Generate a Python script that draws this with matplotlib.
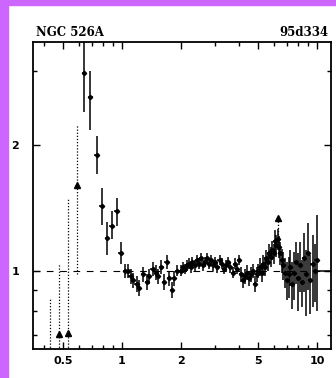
import matplotlib
matplotlib.use('Agg')

import matplotlib.pyplot as plt
from matplotlib.patches import Rectangle
from matplotlib.ticker import NullFormatter
import numpy as np

# -----------------------------
# data (energy in keV, data/model ratio)
# -----------------------------
energy = [0.638, 0.690, 0.742, 0.787, 0.841, 0.885, 0.939, 0.985,
          1.036, 1.077, 1.108, 1.143, 1.190, 1.227, 1.286, 1.340, 1.380,
          1.436, 1.490, 1.535, 1.596, 1.640, 1.695, 1.750, 1.800, 1.850,
          1.910,
          2.00, 2.05, 2.10, 2.15, 2.20, 2.25, 2.30, 2.36, 2.42, 2.48,
          2.54, 2.60, 2.66, 2.73, 2.80, 2.87, 2.94, 3.01, 3.09, 3.17,
          3.25, 3.33, 3.42, 3.51, 3.60, 3.70, 3.80, 3.90, 4.00,
          4.10, 4.20, 4.30, 4.40, 4.50, 4.60, 4.70, 4.80, 4.90, 5.00,
          5.10, 5.20, 5.30, 5.40, 5.50, 5.60, 5.70, 5.80, 5.90, 6.00,
          6.10, 6.20, 6.30, 6.40, 6.50, 6.60, 6.70, 6.85, 7.00, 7.15,
          7.30, 7.45, 7.60, 7.80, 8.00, 8.20, 8.40, 8.60, 8.80, 9.00,
          9.25, 9.50, 9.75, 9.95]
ratio = [2.98, 2.60, 1.89, 1.43, 1.20, 1.28, 1.39, 1.10,
         1.00, 1.00, 0.97, 0.95, 0.93, 0.91, 0.98, 0.94, 0.97,
         1.01, 0.99, 0.97, 1.02, 0.94, 1.05, 0.96, 0.90, 0.96,
         1.00,
         1.00, 1.02, 1.01, 1.03, 1.04, 1.02, 1.05, 1.03, 1.06, 1.04,
         1.07, 1.03, 1.05, 1.07, 1.04, 1.06, 1.03, 1.05, 1.02, 1.06,
         1.04, 1.01, 1.03, 1.05, 1.02, 0.99, 1.04, 1.01, 1.06,
         0.98, 0.95, 0.97, 0.99, 0.96, 0.98, 1.00, 0.93, 0.98, 1.00,
         1.02, 0.99, 1.04, 1.02, 1.07, 1.05, 1.10, 1.08, 1.12, 1.10,
         1.18, 1.15, 1.19, 1.14, 1.10, 1.06, 1.03, 0.99, 0.95, 0.98,
         1.02, 0.93, 0.99, 1.05, 0.96, 1.03, 0.94, 1.07, 0.98, 1.10,
         0.95, 1.04, 1.00, 1.06]
err_lo = [0.58, 0.43, 0.19, 0.14, 0.11, 0.09, 0.11, 0.06,
          0.04, 0.04, 0.04, 0.04, 0.04, 0.04, 0.04, 0.04, 0.04,
          0.04, 0.04, 0.04, 0.04, 0.04, 0.04, 0.04, 0.04, 0.04,
          0.03,
          0.03, 0.03, 0.03, 0.03, 0.03, 0.03, 0.03, 0.03, 0.03, 0.03,
          0.03, 0.03, 0.03, 0.03, 0.03, 0.03, 0.03, 0.03, 0.03, 0.03,
          0.03, 0.03, 0.03, 0.03, 0.03, 0.03, 0.03, 0.03, 0.03,
          0.04, 0.04, 0.04, 0.04, 0.04, 0.04, 0.04, 0.04, 0.04, 0.04,
          0.05, 0.05, 0.05, 0.05, 0.05, 0.05, 0.06, 0.06, 0.06, 0.06,
          0.07, 0.07, 0.07, 0.07, 0.07, 0.07, 0.08, 0.08, 0.10, 0.12,
          0.10, 0.12, 0.14, 0.12, 0.16, 0.14, 0.12, 0.18, 0.20, 0.20,
          0.16, 0.22, 0.16, 0.26]
err_hi = [0.90, 0.41, 0.21, 0.15, 0.11, 0.11, 0.10, 0.07,
          0.04, 0.04, 0.04, 0.04, 0.04, 0.04, 0.04, 0.04, 0.04,
          0.04, 0.04, 0.04, 0.04, 0.04, 0.04, 0.04, 0.04, 0.04,
          0.03,
          0.03, 0.03, 0.03, 0.03, 0.03, 0.03, 0.03, 0.03, 0.03, 0.03,
          0.03, 0.03, 0.03, 0.03, 0.03, 0.03, 0.03, 0.03, 0.03, 0.03,
          0.03, 0.03, 0.03, 0.03, 0.03, 0.03, 0.03, 0.03, 0.03,
          0.04, 0.04, 0.04, 0.04, 0.04, 0.04, 0.04, 0.04, 0.04, 0.04,
          0.05, 0.05, 0.05, 0.05, 0.05, 0.05, 0.06, 0.06, 0.06, 0.06,
          0.07, 0.07, 0.07, 0.07, 0.07, 0.07, 0.08, 0.08, 0.10, 0.10,
          0.10, 0.12, 0.12, 0.12, 0.14, 0.14, 0.12, 0.16, 0.14, 0.20,
          0.14, 0.18, 0.16, 0.30]

# last wide bin above 10 keV (drawn as a flat bar)
last_bin = [10.1, 11.8]
last_ratio = 1.0

# low-signal bins: triangle marker + dotted range
tri_energy = [0.477, 0.531, 0.586, 6.35]
tri_ratio = [0.706, 0.71, 1.60, 1.34]
dot_energy = [0.43, 0.477, 0.531, 0.586, 6.35]
dot_low = [0.60, 0.60, 0.60, 0.98, 1.20]
dot_high = [0.86, 1.045, 1.49, 2.23, 1.34]

x_ticks = [0.5, 1, 2, 5, 10]
x_ticklabels = ["0.5", "1", "2", "5", "10"]
y_ticks = [1, 2]
y_ticklabels = ["1", "2"]

# -----------------------------
# figure
# -----------------------------
fig = plt.figure(figsize=(3.36, 3.78), dpi=100)
fig.patches.append(Rectangle((0, 0), 8 / 336, 1, transform=fig.transFigure,
                             color="#cc66ff", zorder=0))
fig.patches.append(Rectangle((0, 1 - 5 / 378), 1, 5 / 378,
                             transform=fig.transFigure, color="#cc66ff", zorder=0))

ax = fig.add_axes([0.098, 0.077, 0.887, 0.812])
ax.set_xscale("log")
ax.set_yscale("log")
ax.set_xlim(0.35, 11.8)
ax.set_ylim(0.65, 3.53)

ax.axhline(1, color="black", lw=0.8, ls=(0, (6, 6)), zorder=1)

e = np.array(energy)
ax.errorbar(e, ratio, yerr=[err_lo, err_hi], xerr=0.025 * e, fmt="D",
            ms=2.2, color="black", ecolor="black", elinewidth=1.1,
            capsize=0, zorder=3)
ax.hlines(last_ratio, last_bin[0], last_bin[1], color="black", lw=1.1,
          zorder=3)

ax.vlines(dot_energy, dot_low, dot_high, color="black", lw=0.9,
          linestyles=(0, (1, 1.5)), zorder=2)
ax.plot(tri_energy, tri_ratio, "^", color="black", ms=5, zorder=4)

ax.set_xticks(x_ticks)
ax.set_xticklabels(x_ticklabels)
ax.set_xticks([0.4, 0.6, 0.7, 0.8, 0.9, 3, 4, 6, 7, 8, 9], minor=True)
ax.xaxis.set_minor_formatter(NullFormatter())
ax.set_yticks(y_ticks)
ax.set_yticklabels(y_ticklabels)
ax.set_yticks([0.7, 0.8, 0.9, 3], minor=True)
ax.yaxis.set_minor_formatter(NullFormatter())

ax.tick_params(which="both", direction="in", top=True, right=True,
               width=1.0, labelsize=8)
ax.tick_params(which="major", length=5)
ax.tick_params(which="minor", length=3)
ax.tick_params(axis="x", pad=5)
ax.tick_params(axis="y", pad=10)
for lab in ax.get_xticklabels() + ax.get_yticklabels():
    lab.set_fontweight("bold")
for s in ax.spines.values():
    s.set_linewidth(1.3)

fig.text(36 / 336, 1 - 32 / 378, "NGC 526A", ha="left", va="center",
         family="DejaVu Serif", fontweight="bold", fontsize=8.5)
fig.text(329 / 336, 1 - 32 / 378, "95d334", ha="right", va="center",
         family="DejaVu Serif", fontweight="bold", fontsize=8.5)

fig.savefig("out.png", dpi=100)
